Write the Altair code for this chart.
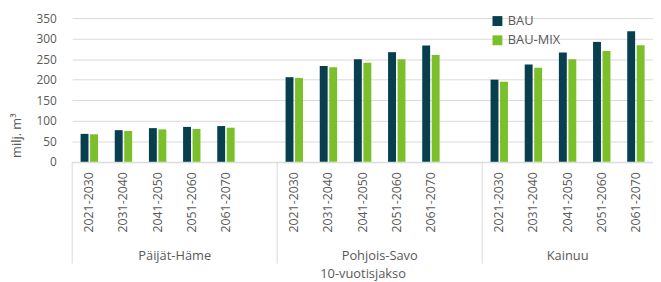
import altair as alt
import pandas as pd

regions = ["Päijät-Häme", "Pohjois-Savo", "Kainuu"]
periods = ["2021-2030", "2031-2040", "2041-2050", "2051-2060", "2061-2070"]
series = ["BAU", "BAU-MIX"]
bau = {
    "Päijät-Häme": [68, 77, 82, 85, 87],
    "Pohjois-Savo": [206, 233, 250, 267, 283],
    "Kainuu": [200, 237, 266, 292, 318],
}
bau_mix = {
    "Päijät-Häme": [67, 75, 79, 80, 83],
    "Pohjois-Savo": [204, 230, 241, 250, 260],
    "Kainuu": [195, 229, 250, 270, 284],
}
colors = ["#073f4e", "#7bc02a"]
text_color = "#595959"
font = "Open Sans"

rows = []
keys = []
for i, r in enumerate(regions):
    for j, p in enumerate(periods):
        k = f"{r}|{p}"
        keys.append(k)
        rows.append({"key": k, "series": "BAU", "value": bau[r][j]})
        rows.append({"key": k, "series": "BAU-MIX", "value": bau_mix[r][j]})
    if i < len(regions) - 1:
        keys.append(f"{r}|")
df = pd.DataFrame(rows)

xscale = alt.Scale(domain=keys, paddingInner=0, paddingOuter=0)

bars = alt.Chart(df).mark_bar().encode(
    x=alt.X(
        "key:N",
        scale=xscale,
        sort=keys,
        axis=alt.Axis(
            labelExpr="split(datum.value, '|')[1]",
            labelAngle=-90,
            labelPadding=10,
            labelFontSize=12.5,
            labelColor=text_color,
            labelFont=font,
            ticks=False,
            domainColor="#d9d9d9",
            title="10-vuotisjakso",
            titleFont=font,
            titleFontSize=13,
            titleFontWeight="normal",
            titleColor=text_color,
            titleY=113,
            titleBaseline="middle",
        ),
    ),
    xOffset=alt.XOffset(
        "series:N",
        scale=alt.Scale(domain=series, paddingInner=0.167, paddingOuter=0.883),
    ),
    y=alt.Y(
        "value:Q",
        scale=alt.Scale(domain=[0, 350], nice=False),
        axis=alt.Axis(
            values=[0, 50, 100, 150, 200, 250, 300, 350],
            labelPadding=16,
            labelFontSize=12,
            labelColor=text_color,
            labelFont=font,
            domain=False,
            ticks=False,
            gridColor="#d9d9d9",
            title="milj. m³",
            titleFont=font,
            titleFontSize=13,
            titleFontWeight="normal",
            titleColor=text_color,
            titleX=-56,
            titleY=118.5,
            titleBaseline="middle",
            titleAngle=270,
        ),
    ),
    color=alt.Color(
        "series:N",
        scale=alt.Scale(domain=series, range=colors),
        legend=alt.Legend(
            title=None,
            orient="none",
            legendX=424,
            legendY=-3.5,
            symbolType="square",
            symbolSize=100,
            symbolStrokeWidth=0,
            labelFontSize=13,
            labelFont=font,
            labelColor=text_color,
            labelOffset=4,
            rowPadding=5.5,
            padding=0,
        ),
    ),
)

sep_df = pd.DataFrame({"key": [f"{r}|{periods[0]}" for r in regions]})
seps = alt.Chart(sep_df).mark_rule(color="#d9d9d9", strokeWidth=1).encode(
    x=alt.X("key:N", bandPosition=0),
    y=alt.value(145.5),
    y2=alt.value(248.5),
)

lab1 = pd.DataFrame({"key": [f"{r}|{periods[3]}" for r in regions[:2]], "label": regions[:2]})
lab2 = pd.DataFrame({"key": [f"{regions[2]}|{periods[2]}"], "label": [regions[2]]})
t1 = alt.Chart(lab1).mark_text(fontSize=13, font=font, color=text_color, baseline="middle").encode(
    x=alt.X("key:N", bandPosition=0), y=alt.value(240.5), text="label:N"
)
t2 = alt.Chart(lab2).mark_text(fontSize=13, font=font, color=text_color, baseline="middle").encode(
    x=alt.X("key:N", bandPosition=0.5), y=alt.value(240.5), text="label:N"
)

chart = alt.layer(bars, seps, t1, t2).properties(
    width=588,
    height=145.5,
    autosize=alt.AutoSizeParams(type="none"),
    padding={"left": 65, "top": 8.5, "right": 0, "bottom": 120},
).configure_view(stroke=None)

chart.save("out.html", embed_options={"renderer": "svg", "actions": False})
